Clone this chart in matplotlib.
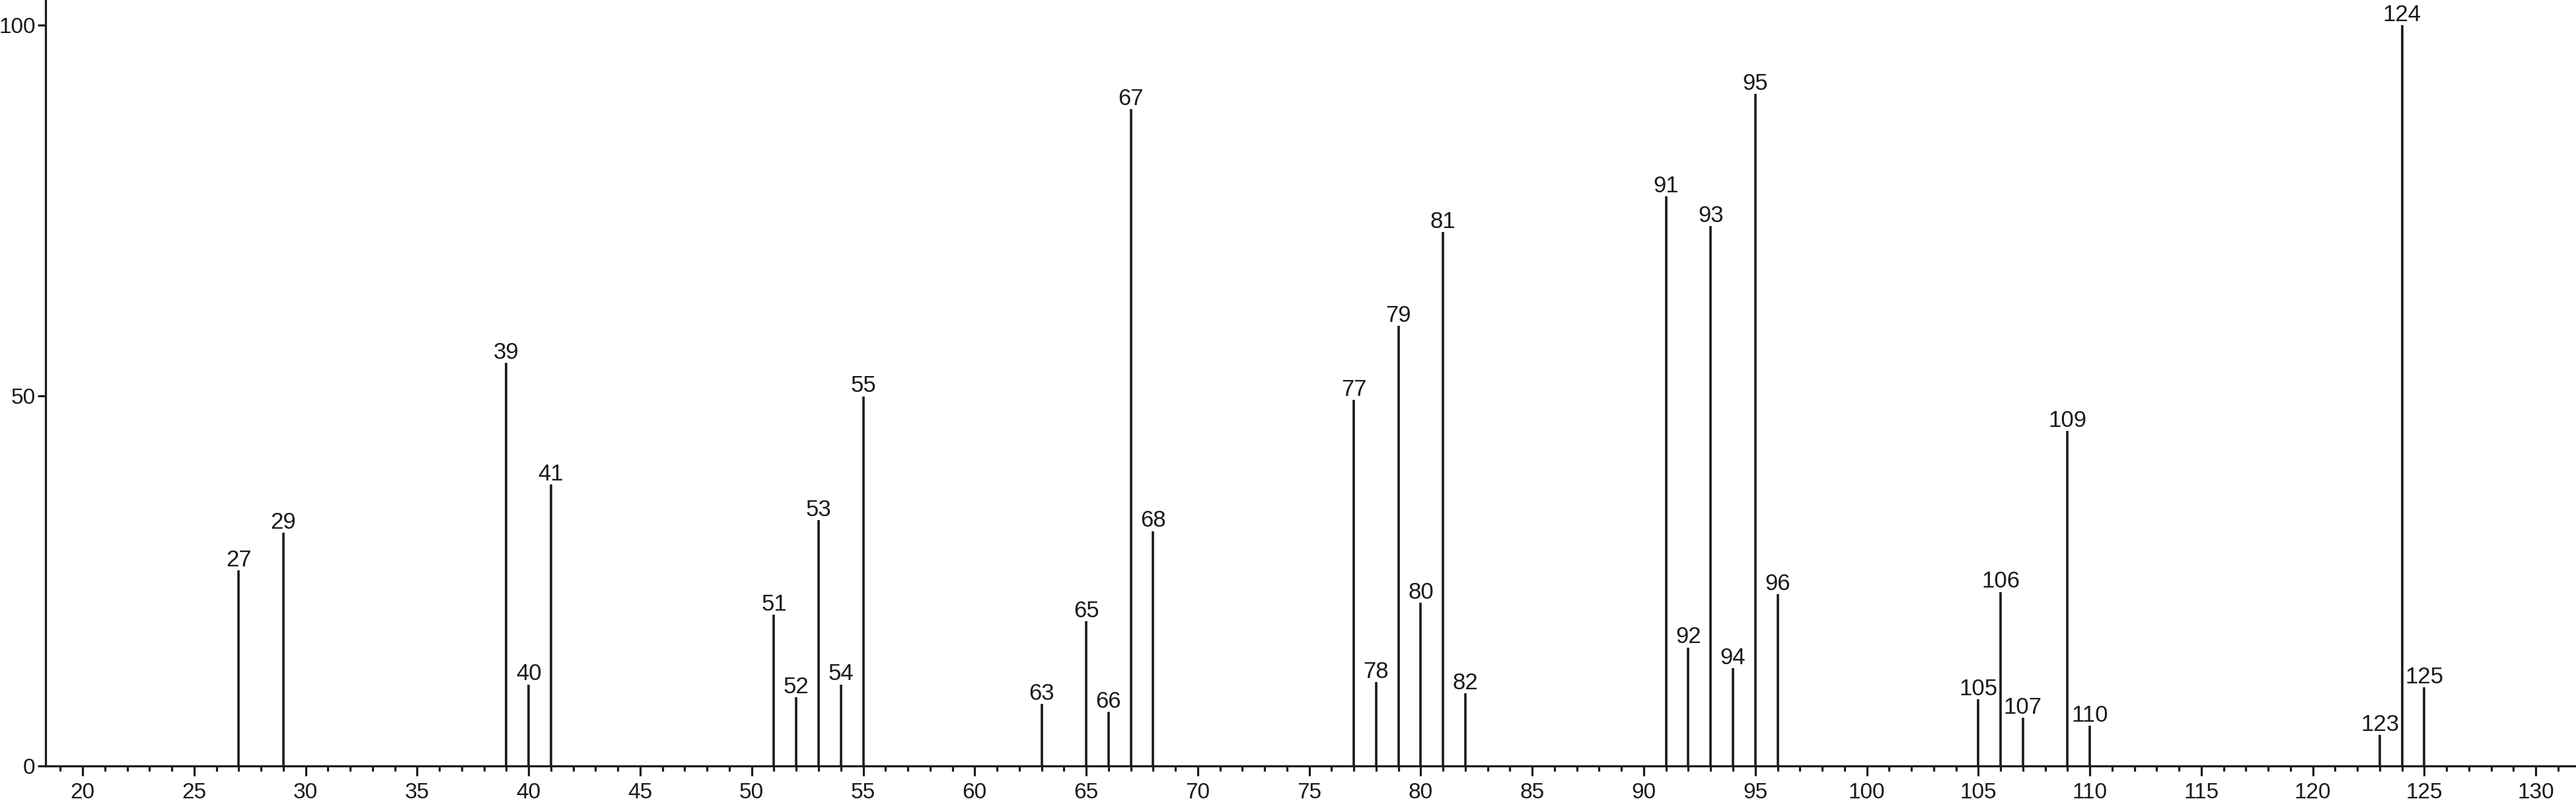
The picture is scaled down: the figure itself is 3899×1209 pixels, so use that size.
import matplotlib
matplotlib.use("Agg")
import matplotlib.pyplot as plt
from matplotlib.ticker import MultipleLocator

mz = [27, 29, 39, 40, 41, 51, 52, 53, 54, 55, 63, 65, 66, 67, 68,
      77, 78, 79, 80, 81, 82, 91, 92, 93, 94, 95, 96,
      105, 106, 107, 109, 110, 123, 124, 125]
intensity = [26.4, 31.5, 54.4, 11.0, 38.0, 20.4, 9.3, 33.2, 11.0, 49.9, 8.4, 19.5, 7.3, 88.7, 31.7,
             49.4, 11.3, 59.4, 22.0, 72.1, 9.8, 76.9, 16.0, 72.9, 13.2, 90.7, 23.2,
             9.0, 23.5, 6.5, 45.2, 5.4, 4.2, 100.0, 10.6]
x_ticks = [20, 25, 30, 35, 40, 45, 50, 55, 60, 65, 70, 75, 80, 85, 90, 95,
           100, 105, 110, 115, 120, 125, 130]
y_ticks = [0, 50, 100]

plt.rcParams['font.family'] = ['Liberation Sans', 'DejaVu Sans']
col = '#1a1a1a'

fig = plt.figure(figsize=(38.99, 12.09), dpi=100)
ax = fig.add_axes([69 / 3899, 50 / 1209, 1 - 69 / 3899, 1 - 50 / 1209])

ax.vlines(mz, 0, intensity, color=col, linewidth=2.6)
for x, h in zip(mz, intensity):
    ax.annotate(str(x), (x, h), xytext=(0, 4.5), textcoords='offset points',
                ha='center', va='baseline', fontsize=25, color=col)

ax.set_xlim(18.34, 131.8)
ax.set_ylim(0, 103.4)
ax.set_xticks(x_ticks)
ax.set_xticklabels([str(t) for t in x_ticks])
ax.xaxis.set_minor_locator(MultipleLocator(1))
ax.set_yticks(y_ticks)
ax.set_yticklabels([str(t) for t in y_ticks])

for s in ['top', 'right']:
    ax.spines[s].set_visible(False)
for s in ['left', 'bottom']:
    ax.spines[s].set_linewidth(2.3)
    ax.spines[s].set_color(col)

ax.tick_params(axis='x', which='major', direction='out', length=11, width=2.3,
               labelsize=24, pad=7, colors=col)
ax.tick_params(axis='x', which='minor', direction='out', length=6, width=2.3, colors=col)
ax.tick_params(axis='y', which='major', direction='out', length=9, width=2.3,
               labelsize=24, pad=2, colors=col)

fig.savefig('out.png', dpi=100, facecolor='white')
